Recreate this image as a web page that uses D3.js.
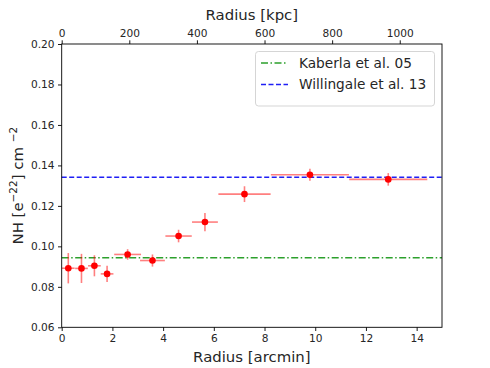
<!DOCTYPE html>
<html>
<head>
<meta charset="utf-8">
<script src="https://cdn.jsdelivr.net/npm/d3@7"></script>
<style>
  body { margin: 0; background: #fff; }
  text { font-family: "DejaVu Sans", sans-serif; fill: #262626; }
</style>
</head>
<body>
<svg id="chart" width="490" height="368"></svg>
<script>
// radius in arcmin, bin half width, NH and its error
var radius = [0.26, 0.78, 1.29, 1.79, 2.60, 3.58, 4.61, 5.65, 7.21, 9.79, 12.88];
var radiusErr = [0.25, 0.25, 0.25, 0.25, 0.53, 0.49, 0.52, 0.51, 1.03, 1.54, 1.54];
var nh = [0.0892, 0.0891, 0.0904, 0.0864, 0.0960, 0.0930, 0.1051, 0.1120, 0.1258, 0.1354, 0.1331];
var nhErr = [0.0075, 0.0072, 0.0052, 0.0040, 0.0026, 0.0030, 0.0031, 0.0045, 0.0039, 0.0030, 0.0031];

var refNames = ["Kaberla et al. 05", "Willingale et al. 13"];
var refValues = [0.0944, 0.1341];

var xTicks = [0, 2, 4, 6, 8, 10, 12, 14];
var kpcTicks = [0, 200, 400, 600, 800, 1000];
var yTicks = [0.06, 0.08, 0.10, 0.12, 0.14, 0.16, 0.18, 0.20];
var kpcPerArcmin = 75;

var svg = d3.select("#chart"),
  pLeft = 61.7, pRight = 442, pTop = 44, pBottom = 327.3;

var x = d3.scaleLinear().domain([0, 15]).range([pLeft, pRight]);
var xKpc = d3.scaleLinear().domain([0, 15 * kpcPerArcmin]).range([pLeft, pRight]);
var y = d3.scaleLinear().domain([0.06, 0.20]).range([pBottom, pTop]);

// reference lines
var refStyle = [
  {color: "#2ca02c", dash: "7,2.5,1.5,2.5"},
  {color: "#1f1ff5", dash: "5,2.5"}
];

var plot = svg.append("g");

plot.selectAll("line.ref")
  .data(refValues)
  .enter().append("line")
  .attr("class", "ref")
  .attr("x1", x(0)).attr("x2", x(15))
  .attr("y1", function (d) { return y(d); })
  .attr("y2", function (d) { return y(d); })
  .attr("stroke", function (d, i) { return refStyle[i].color; })
  .attr("stroke-dasharray", function (d, i) { return refStyle[i].dash; })
  .attr("stroke-width", 1.5);

// error bars
var pts = radius.map(function (r, i) {
  return {x: r, xe: radiusErr[i], y: nh[i], ye: nhErr[i]};
});

var eb = plot.selectAll("g.pt")
  .data(pts)
  .enter().append("g")
  .attr("class", "pt");

eb.append("line")
  .attr("x1", function (d) { return x(d.x - d.xe); })
  .attr("x2", function (d) { return x(d.x + d.xe); })
  .attr("y1", function (d) { return y(d.y); })
  .attr("y2", function (d) { return y(d.y); })
  .attr("stroke", "#ff0000").attr("stroke-opacity", 0.5).attr("stroke-width", 1.6);

eb.append("line")
  .attr("x1", function (d) { return x(d.x); })
  .attr("x2", function (d) { return x(d.x); })
  .attr("y1", function (d) { return y(d.y - d.ye); })
  .attr("y2", function (d) { return y(d.y + d.ye); })
  .attr("stroke", "#ff0000").attr("stroke-opacity", 0.5).attr("stroke-width", 1.6);

eb.append("circle")
  .attr("cx", function (d) { return x(d.x); })
  .attr("cy", function (d) { return y(d.y); })
  .attr("r", 3.3)
  .attr("fill", "#ff0000");

// frame
svg.append("rect")
  .attr("x", pLeft).attr("y", pTop)
  .attr("width", pRight - pLeft).attr("height", pBottom - pTop)
  .attr("fill", "none").attr("stroke", "#000").attr("stroke-width", 0.9);

function styleAxis(g) {
  g.select(".domain").remove();
  g.selectAll(".tick line").attr("stroke", "#000").attr("stroke-width", 0.9);
  g.selectAll(".tick text")
    .attr("font-family", "DejaVu Sans")
    .attr("font-size", "10.6px")
    .attr("fill", "#262626");
}

svg.append("g")
  .attr("transform", "translate(0," + pBottom + ")")
  .call(d3.axisBottom(x).tickValues(xTicks).tickSize(3.7).tickPadding(3.5).tickFormat(d3.format("d")))
  .call(styleAxis);

svg.append("g")
  .attr("transform", "translate(0," + pTop + ")")
  .call(d3.axisTop(xKpc).tickValues(kpcTicks).tickSize(3.7).tickPadding(3.5).tickFormat(d3.format("d")))
  .call(styleAxis);

svg.append("g")
  .attr("transform", "translate(" + pLeft + ",0)")
  .call(d3.axisLeft(y).tickValues(yTicks).tickSize(3.7).tickPadding(3.5).tickFormat(d3.format(".2f")))
  .call(styleAxis);

// axis labels
svg.append("text")
  .attr("x", (pLeft + pRight) / 2).attr("y", 362)
  .attr("text-anchor", "middle").attr("font-size", "14.9px")
  .text("Radius [arcmin]");

svg.append("text")
  .attr("x", (pLeft + pRight) / 2).attr("y", 20)
  .attr("text-anchor", "middle").attr("font-size", "14.9px")
  .text("Radius [kpc]");

var yl = svg.append("text")
  .attr("transform", "translate(23," + ((pTop + pBottom) / 2) + ") rotate(-90)")
  .attr("text-anchor", "middle").attr("font-size", "14.9px");
yl.append("tspan").text("NH [e");
yl.append("tspan").attr("dy", -6).attr("font-size", "10.5px").text("\u221222");
yl.append("tspan").attr("dy", 6).text("] cm ");
yl.append("tspan").attr("dy", -6).attr("font-size", "10.5px").text(" \u22122");

// legend
var lg = svg.append("g");
lg.append("rect")
  .attr("x", 255.5).attr("y", 51.5).attr("width", 179).attr("height", 54.5)
  .attr("rx", 3).attr("fill", "#fff").attr("fill-opacity", 0.8)
  .attr("stroke", "#d0d0d0").attr("stroke-width", 0.9);

var items = lg.selectAll("g.item")
  .data(refNames)
  .enter().append("g")
  .attr("class", "item")
  .attr("transform", function (d, i) { return "translate(0," + (63 + i * 21.5) + ")"; });

items.append("line")
  .attr("x1", 261).attr("x2", 288)
  .attr("stroke", function (d, i) { return refStyle[i].color; })
  .attr("stroke-dasharray", function (d, i) { return refStyle[i].dash; })
  .attr("stroke-width", 1.5);

items.append("text")
  .attr("x", 299).attr("dy", "0.36em")
  .attr("font-size", "13.7px")
  .text(function (d) { return d; });
</script>
</body>
</html>
